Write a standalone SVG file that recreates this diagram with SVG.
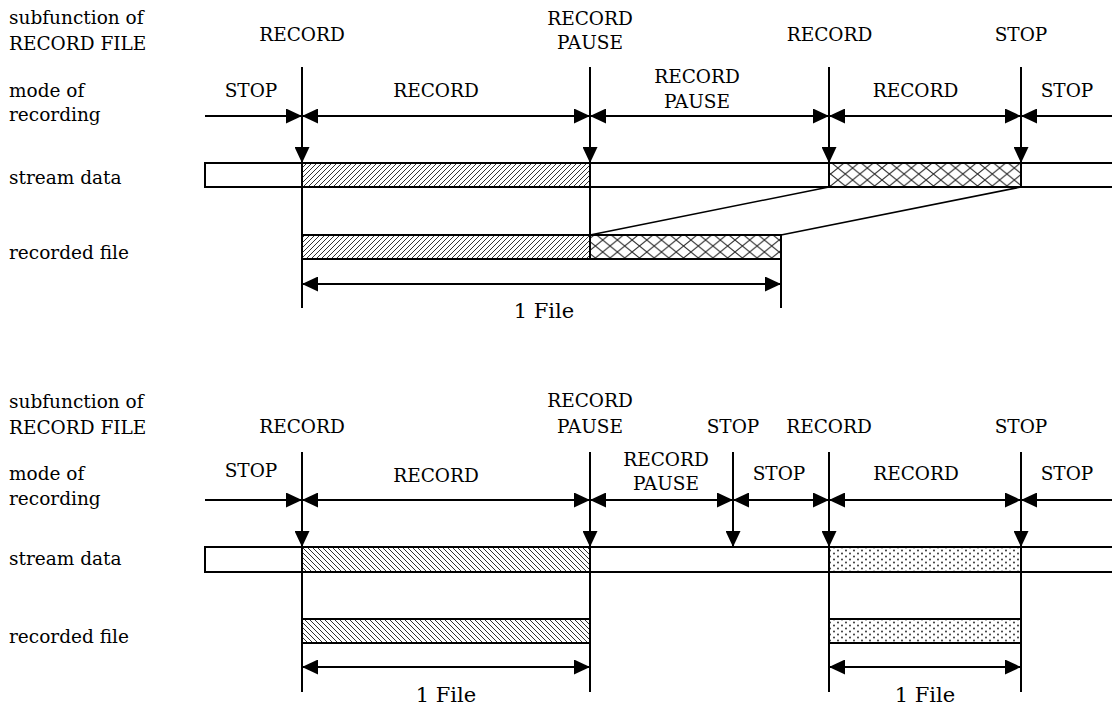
<svg xmlns="http://www.w3.org/2000/svg" width="1112" height="705" viewBox="0 0 1112 705">
<style>
  text { font-family: "DejaVu Serif", serif; font-size: 18.5px; fill: #000; }
  .c { text-anchor: middle; }
  .big { font-size: 21px; }
  .ln { stroke: #000; stroke-width: 2; fill: none; }
  .thin { stroke: #000; stroke-width: 1.6; fill: none; }
  .bar { stroke: #000; stroke-width: 2; fill: #fff; }
</style>
<defs>
  <marker id="ah" viewBox="0 0 16 15" refX="16" refY="7.5" markerWidth="16" markerHeight="15" markerUnits="userSpaceOnUse" orient="auto">
    <path d="M0,0 L16,7.5 L0,15 Z" fill="#000"/>
  </marker>
  <marker id="ahs" viewBox="0 0 16 15" refX="16" refY="7.5" markerWidth="16" markerHeight="15" markerUnits="userSpaceOnUse" orient="auto-start-reverse">
    <path d="M0,0 L16,7.5 L0,15 Z" fill="#000"/>
  </marker>
  <pattern id="fwd" patternUnits="userSpaceOnUse" width="5" height="5">
    <rect width="5" height="5" fill="#fff"/>
    <path d="M0,5 L5,0 M-1,1 L1,-1 M4,6 L6,4" stroke="#333" stroke-width="1"/>
  </pattern>
  <pattern id="back" patternUnits="userSpaceOnUse" width="5" height="5">
    <rect width="5" height="5" fill="#fff"/>
    <path d="M0,0 L5,5 M-1,4 L1,6 M4,-1 L6,1" stroke="#333" stroke-width="1"/>
  </pattern>
  <pattern id="cross" patternUnits="userSpaceOnUse" width="14.7" height="12">
    <rect width="14.7" height="12" fill="#fff"/>
    <path d="M0,0 L14.7,12 M14.7,0 L0,12" stroke="#333" stroke-width="1.1"/>
  </pattern>
  <pattern id="dots" patternUnits="userSpaceOnUse" width="8" height="6">
    <rect width="8" height="6" fill="#fff"/>
    <circle cx="2" cy="1.5" r="0.9" fill="#222"/>
    <circle cx="6" cy="4.5" r="0.9" fill="#222"/>
  </pattern>
  <clipPath id="clipPause">
    <rect x="600" y="440" width="130" height="50"/>
  </clipPath>
</defs>

<g id="top-row-labels">
  <text x="9" y="24">subfunction of</text>
  <text x="9" y="50">RECORD FILE</text>
  <text x="9" y="97">mode of</text>
  <text x="9" y="121">recording</text>
  <text x="9" y="184">stream data</text>
  <text x="9" y="259">recorded file</text>
</g>
<g id="top-subfunction-labels">
  <text class="c" x="302" y="41">RECORD</text>
  <text class="c" x="590" y="25">RECORD</text>
  <text class="c" x="590" y="49">PAUSE</text>
  <text class="c" x="829.5" y="41">RECORD</text>
  <text class="c" x="1021" y="41">STOP</text>
</g>
<g id="top-mode-labels">
  <text class="c" x="251" y="97">STOP</text>
  <text class="c" x="436" y="97">RECORD</text>
  <text class="c" x="697" y="83">RECORD</text>
  <text class="c" x="697" y="108">PAUSE</text>
  <text class="c" x="915.5" y="97">RECORD</text>
  <text class="c" x="1067" y="97">STOP</text>
</g>
<g id="top-stream">
  <rect class="bar" x="205" y="163" width="920" height="24"/>
  <rect x="302" y="163" width="288" height="24" fill="url(#fwd)" stroke="#000" stroke-width="2"/>
  <rect x="829" y="163" width="192" height="24" fill="url(#cross)" stroke="#000" stroke-width="2"/>
</g>
<g id="top-recorded">
  <rect x="302" y="235" width="288" height="24" fill="url(#fwd)" stroke="#000" stroke-width="2"/>
  <rect x="590" y="235" width="191" height="24" fill="url(#cross)" stroke="#000" stroke-width="2"/>
  <text class="c big" x="544" y="318">1 File</text>
</g>
<g id="top-connectors">
  <line class="ln" x1="302" y1="67" x2="302" y2="308"/>
  <line class="ln" x1="590" y1="67" x2="590" y2="259"/>
  <line class="ln" x1="829" y1="67" x2="829" y2="163"/>
  <line class="ln" x1="1021" y1="67" x2="1021" y2="163"/>
  <line class="ln" x1="781" y1="235" x2="781" y2="308"/>
  <line class="ln" x1="302" y1="116" x2="302" y2="163" marker-end="url(#ah)"/>
  <line class="ln" x1="590" y1="116" x2="590" y2="163" marker-end="url(#ah)"/>
  <line class="ln" x1="829" y1="116" x2="829" y2="163" marker-end="url(#ah)"/>
  <line class="ln" x1="1021" y1="116" x2="1021" y2="163" marker-end="url(#ah)"/>
  <line class="ln" x1="205" y1="116" x2="302" y2="116" marker-end="url(#ah)"/>
  <line class="ln" x1="302" y1="116" x2="590" y2="116" marker-start="url(#ahs)" marker-end="url(#ah)"/>
  <line class="ln" x1="590" y1="116" x2="829" y2="116" marker-start="url(#ahs)" marker-end="url(#ah)"/>
  <line class="ln" x1="829" y1="116" x2="1021" y2="116" marker-start="url(#ahs)" marker-end="url(#ah)"/>
  <line class="ln" x1="1115" y1="116" x2="1021" y2="116" marker-end="url(#ah)"/>
  <line class="thin" x1="829" y1="187" x2="590" y2="235"/>
  <line class="thin" x1="1021" y1="187" x2="781" y2="235"/>
  <line class="ln" x1="302" y1="284" x2="781" y2="284" marker-start="url(#ahs)" marker-end="url(#ah)"/>
</g>

<g id="bottom-row-labels">
  <text x="9" y="408">subfunction of</text>
  <text x="9" y="434">RECORD FILE</text>
  <text x="9" y="480">mode of</text>
  <text x="9" y="505">recording</text>
  <text x="9" y="565">stream data</text>
  <text x="9" y="643">recorded file</text>
</g>
<g id="bottom-subfunction-labels">
  <text class="c" x="302" y="433">RECORD</text>
  <text class="c" x="590" y="407">RECORD</text>
  <text class="c" x="590" y="433">PAUSE</text>
  <text class="c" x="733" y="433">STOP</text>
  <text class="c" x="829" y="433">RECORD</text>
  <text class="c" x="1021" y="433">STOP</text>
</g>
<g id="bottom-mode-labels">
  <text class="c" x="251" y="477">STOP</text>
  <text class="c" x="436" y="482">RECORD</text>
  <text class="c" x="666" y="466">RECORD</text>
  <text class="c" x="666" y="490" clip-path="url(#clipPause)">PAUSE</text>
  <text class="c" x="779" y="480">STOP</text>
  <text class="c" x="916" y="480">RECORD</text>
  <text class="c" x="1067" y="480">STOP</text>
</g>
<g id="bottom-stream">
  <rect class="bar" x="205" y="547" width="920" height="25"/>
  <rect x="302" y="547" width="288" height="25" fill="url(#back)" stroke="#000" stroke-width="2"/>
  <rect x="829" y="547" width="192" height="25" fill="url(#dots)" stroke="#000" stroke-width="2"/>
</g>
<g id="bottom-recorded">
  <rect x="302" y="619" width="288" height="24" fill="url(#back)" stroke="#000" stroke-width="2"/>
  <rect x="829" y="619" width="192" height="24" fill="url(#dots)" stroke="#000" stroke-width="2"/>
  <text class="c big" x="446" y="702">1 File</text>
  <text class="c big" x="925" y="702">1 File</text>
</g>
<g id="bottom-connectors">
  <line class="ln" x1="302" y1="452" x2="302" y2="692"/>
  <line class="ln" x1="590" y1="452" x2="590" y2="692"/>
  <line class="ln" x1="733" y1="452" x2="733" y2="547"/>
  <line class="ln" x1="829" y1="452" x2="829" y2="692"/>
  <line class="ln" x1="1021" y1="452" x2="1021" y2="692"/>
  <line class="ln" x1="302" y1="500" x2="302" y2="547" marker-end="url(#ah)"/>
  <line class="ln" x1="590" y1="500" x2="590" y2="547" marker-end="url(#ah)"/>
  <line class="ln" x1="733" y1="500" x2="733" y2="547" marker-end="url(#ah)"/>
  <line class="ln" x1="829" y1="500" x2="829" y2="547" marker-end="url(#ah)"/>
  <line class="ln" x1="1021" y1="500" x2="1021" y2="547" marker-end="url(#ah)"/>
  <line class="ln" x1="205" y1="500" x2="302" y2="500" marker-end="url(#ah)"/>
  <line class="ln" x1="302" y1="500" x2="590" y2="500" marker-start="url(#ahs)" marker-end="url(#ah)"/>
  <line class="ln" x1="590" y1="500" x2="733" y2="500" marker-start="url(#ahs)" marker-end="url(#ah)"/>
  <line class="ln" x1="733" y1="500" x2="829" y2="500" marker-start="url(#ahs)" marker-end="url(#ah)"/>
  <line class="ln" x1="829" y1="500" x2="1021" y2="500" marker-start="url(#ahs)" marker-end="url(#ah)"/>
  <line class="ln" x1="1115" y1="500" x2="1021" y2="500" marker-end="url(#ah)"/>
  <line class="ln" x1="302" y1="667" x2="590" y2="667" marker-start="url(#ahs)" marker-end="url(#ah)"/>
  <line class="ln" x1="829" y1="667" x2="1021" y2="667" marker-start="url(#ahs)" marker-end="url(#ah)"/>
</g>
</svg>
